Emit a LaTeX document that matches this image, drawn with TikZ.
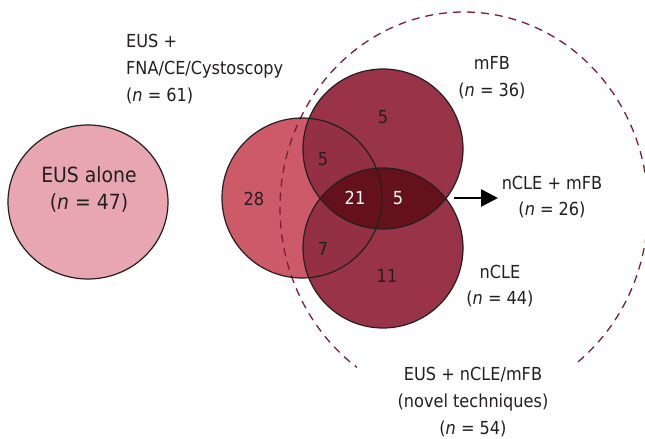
\documentclass[tikz,border=0pt]{standalone}
\usepackage{fontspec}
\setmainfont{DejaVu Sans Condensed}
\usetikzlibrary{arrows.meta}
\definecolor{pinkA}{HTML}{E8A7B0}
\definecolor{roseB}{HTML}{CD5A68}
\definecolor{wineC}{HTML}{993347}
\definecolor{wineD}{HTML}{933043}
\definecolor{darkE}{HTML}{65111C}
\definecolor{dashF}{HTML}{7A1E32}
\definecolor{ink}{HTML}{231F20}
\tikzset{
  lbl/.style={text=ink, font=\fontsize{18}{27}\selectfont, align=center, inner sep=0pt},
  num/.style={text=ink, font=\fontsize{18}{20}\selectfont, inner sep=0pt},
  wnum/.style={num, text=white},
  ring/.style={draw=ink, line width=1.2bp},
}
\begin{document}
\begin{tikzpicture}[x=1bp,y=-1bp]
\useasboundingbox (0,0) rectangle (645,439);
% EUS alone
\fill[pinkA] (88,202) ellipse [x radius=80, y radius=77];
\draw[ring] (88,202) ellipse [x radius=80, y radius=77];
% fills
\fill[roseB] (302,198) circle (80);
\fill[wineC] (383,149) circle (80);
\fill[wineC] (383,248) circle (80);
\begin{scope}
  \clip (302,198) circle (80);
  \fill[wineD] (383,149) circle (80);
  \fill[wineD] (383,248) circle (80);
\end{scope}
\begin{scope}
  \clip (383,149) circle (80);
  \fill[darkE] (383,248) circle (80);
\end{scope}
% dashed ellipse arc
\draw[dashF, line width=1.3bp, dash pattern=on 8bp off 6bp]
  (464,208) ++(51.7:184 and 196) arc[start angle=51.7, end angle=-234.4, x radius=184, y radius=196];
% outlines
\draw[ring] (302,198) circle (80);
\draw[ring] (383,149) circle (80);
\draw[ring] (383,248) circle (80);
% texts
\node[lbl, font=\fontsize{21}{27}\selectfont] (eusalone) at (89,189) {EUS alone\\(\textit{n} = 47)};
\node[lbl, align=left, anchor=west] (fna) at (126,69) {EUS +\\FNA/CE/Cystoscopy\\(\textit{n} = 61)};
\node[lbl] (mfb) at (492,78) {mFB\\(\textit{n} = 36)};
\node[lbl] (both) at (552,197) {nCLE + mFB\\(\textit{n} = 26)};
\node[lbl] (ncle) at (500,286) {nCLE\\(\textit{n} = 44)};
\node[lbl] (novel) at (473,402) {EUS + nCLE/mFB\\(novel techniques)\\(\textit{n} = 54)};
\node[num] (n28) at (254,199) {28};
\node[num] (n5a) at (383,117) {5};
\node[num] (n5b) at (323,159) {5};
\node[wnum] (n21) at (355,198) {21};
\node[wnum] (n5c) at (398,198) {5};
\node[num] (n7) at (323,249) {7};
\node[num] (n11) at (387,276) {11};
\coordinate (arrS) at (454,198);
\coordinate (arrE) at (498,198);
\draw[black, line width=2.6bp, -{Triangle[length=17bp,width=17bp]}] (arrS) -- (arrE);
\end{tikzpicture}
\end{document}
